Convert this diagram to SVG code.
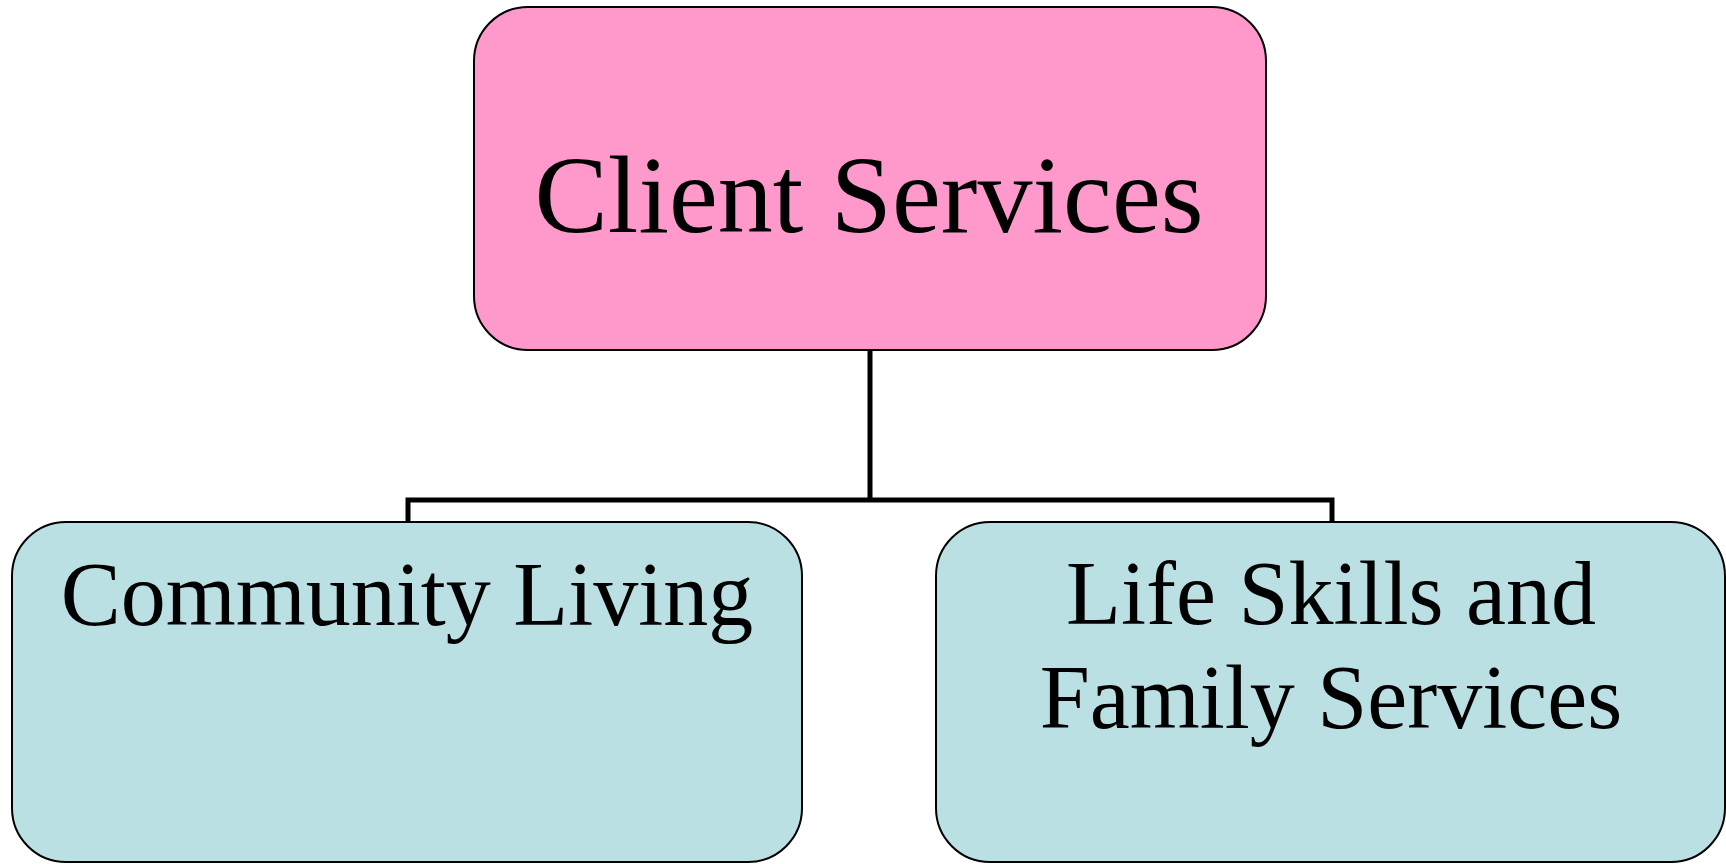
<svg xmlns="http://www.w3.org/2000/svg" width="1726" height="864" viewBox="0 0 1726 864">
<style>
.box{stroke:#000;stroke-width:2}
.top{fill:#FF99CC}
.sub{fill:#BBE0E3}
.t{font-family:"Liberation Serif","Times New Roman",serif;fill:#000;text-anchor:middle}
.conn{fill:none;stroke:#000;stroke-width:5;stroke-linejoin:miter}
</style>
<rect width="1726" height="864" fill="#fff"/>
<g id="connectors">
<path class="conn" d="M870 350 V500 M408 522 V500 H1332 V522"/>
</g>
<g id="client-services">
<rect class="box top" x="474" y="7" width="792" height="343" rx="54" ry="54"/>
<text class="t" x="869" y="232" font-size="110">Client Services</text>
</g>
<g id="community-living">
<rect class="box sub" x="12" y="522" width="790" height="340" rx="54" ry="54"/>
<text class="t" x="407" y="625" font-size="90">Community Living</text>
</g>
<g id="life-skills">
<rect class="box sub" x="936" y="522" width="789" height="340" rx="54" ry="54"/>
<text class="t" x="1331" y="624" font-size="90">Life Skills and</text>
<text class="t" x="1331" y="728" font-size="90">Family Services</text>
</g>
</svg>
